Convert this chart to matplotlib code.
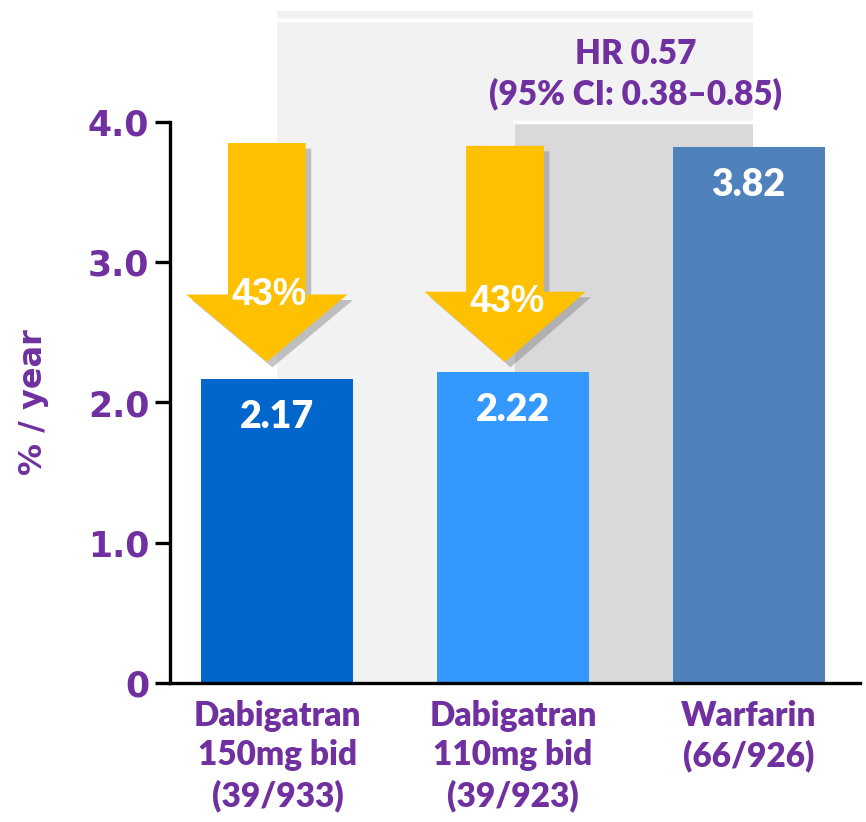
import matplotlib
matplotlib.use("Agg")
import matplotlib.pyplot as plt
import matplotlib.patheffects as pe
from matplotlib.patches import Polygon, Rectangle

# Taxa de eventos (% / ano) por braço do estudo
categorias = ["Dabigatran\n150mg bid\n(39/933)",
              "Dabigatran\n110mg bid\n(39/923)",
              "Warfarin\n(66/926)"]
valores = [2.17, 2.22, 3.82]
cores = ["#0066CC", "#3399FF", "#4F81BD"]
reducoes = ["43%", "43%"]
hr_texto = "HR 0.57\n(95% CI: 0.38\u20130.85)"
yticks = [0, 1, 2, 3, 4]
ytick_labels = ["0", "1.0", "2.0", "3.0", "4.0"]

roxo = "#7030A0"
amarelo = "#FFC000"

W, H = 866, 822
fig = plt.figure(figsize=(W / 100, H / 100), dpi=100)
ax = fig.add_axes([170 / W, 1 - 683 / H, (860 - 170) / W, (683 - 122) / H])

x = list(range(len(valores)))
ax.set_xlim(-0.456, 2.473)
ax.set_ylim(0, 4.0)

# Fundos cinza que ligam os braços comparados
ax.add_patch(Rectangle((0, 0), 2.02, 4.79, facecolor="#F2F2F2", edgecolor="none",
                       clip_on=False, zorder=0))
ax.plot([0, 2.02], [4.727, 4.727], color="white", lw=2.5, clip_on=False, zorder=0.5)
ax.add_patch(Rectangle((1.01, 0), 1.01, 3.99, facecolor="#D9D9D9", edgecolor="none",
                       clip_on=False, zorder=0.6))
ax.plot([1.01, 2.02], [4.0, 4.0], color="white", lw=2.5, clip_on=False, zorder=0.7)

# Barras
barras = ax.bar(x, valores, width=0.645, color=cores, zorder=2)
for xi, v in zip(x, valores):
    ax.text(xi, v - 0.27, f"{v:.2f}", ha="center", va="center", color="white",
            fontsize=27, fontweight="heavy", family="Lato", zorder=3)

# Setas de redução: centro x, topo, base da ponta, ponta, altura do texto
setas = [(-0.045, 3.85, 2.77, 2.29, 2.77), (0.966, 3.83, 2.79, 2.29, 2.72)]
for (cx, topo, base, ponta, ytxt), txt in zip(setas, reducoes):
    hs, hh = 0.165, 0.342
    pts = [(cx - hs, topo), (cx + hs, topo), (cx + hs, base), (cx + hh, base),
           (cx, ponta), (cx - hh, base), (cx - hs, base)]
    seta = Polygon(pts, closed=True, facecolor=amarelo, edgecolor="none", zorder=4)
    seta.set_path_effects([pe.SimplePatchShadow(offset=(4, -4), shadow_rgbFace="#808080",
                                                alpha=0.45), pe.Normal()])
    ax.add_patch(seta)
    ax.text(cx + 0.01, ytxt, txt, ha="center", va="center", color="white",
            fontsize=27, fontweight="bold", family="Liberation Sans", zorder=5)

ax.text(1.52, 4.34, hr_texto, ha="center", va="center", color=roxo, fontsize=24,
        fontweight="heavy", family="Lato", linespacing=1.3, zorder=5)

# Eixos
for s in ["top", "right"]:
    ax.spines[s].set_visible(False)
ax.spines["left"].set_linewidth(2.4)
ax.spines["bottom"].set_linewidth(2.4)
ax.spines["left"].set_zorder(6)
ax.spines["bottom"].set_zorder(6)

ax.set_yticks(yticks)
ax.set_yticklabels(ytick_labels, fontsize=25, fontweight="bold", color=roxo,
                   family="DejaVu Sans")
ax.tick_params(axis="y", length=11, width=2.4, pad=4)
ax.set_xticks(x)
ax.set_xticklabels(categorias, fontsize=24, fontweight="heavy", color=roxo,
                   family="Lato", linespacing=1.3, va="top")
ax.tick_params(axis="x", length=0, pad=12)

ax.set_ylabel("% / year", fontsize=23, fontweight="bold", color=roxo,
              family="DejaVu Sans", labelpad=28)

fig.savefig("out.png", dpi=100)
